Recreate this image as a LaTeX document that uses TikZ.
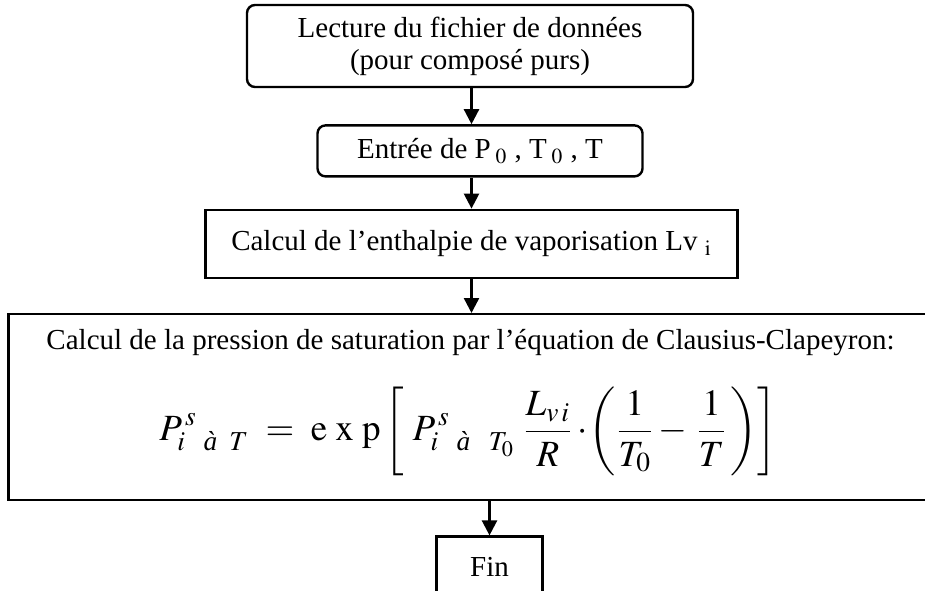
\documentclass[tikz,border=0pt]{standalone}
\usepackage{amsmath}
\usepackage{mathptmx}
\usepackage{fontspec}
\setmainfont{Liberation Serif}
\usetikzlibrary{positioning,arrows.meta}
\tikzset{
  box/.style={draw=black,line width=1.2pt,fill=white,align=center,inner sep=0pt,font=\fontsize{14.5}{16}\selectfont},
  roundbox/.style={box,rounded corners=4pt},
  arrow/.style={-{Triangle[length=7.5pt,width=7.5pt]},line width=1.2pt}
}
\newcommand\formsize{\fontsize{18.5}{22}\selectfont}

\begin{document}
\begin{tikzpicture}[x=0.5pt,y=-0.5pt]
  \useasboundingbox (0,0) rectangle (925,590);
  \node[roundbox,minimum width=223pt,minimum height=41pt] (lecture) at (470,46) {Lecture du fichier de données\\(pour composé purs)};
  \node[roundbox,below=18pt of lecture,xshift=5pt,minimum width=162.5pt,minimum height=25.5pt] (entree) {Entrée de P\,$_{0}$ , T\,$_{0}$ , T};
  \node[box,below=15.5pt of entree,xshift=-4.25pt,minimum width=266pt,minimum height=34pt] (enthalpie) {Calcul de l’enthalpie de vaporisation Lv\,$_{\,\mathrm{i}}$};
  \node[box,below=17pt of enthalpie,xshift=-0.5pt,minimum width=462pt,minimum height=93pt] (clausius) {Calcul de la pression de saturation par l’équation de Clausius-Clapeyron:\\[13.5pt]
    {\formsize$\displaystyle P^{\,s}_{i\ \ \textit{à}\ \,T}\;=\;\mathrm{e\,\,x\,\,p}\left[\rule[-20pt]{0pt}{48pt}\;P^{\,s}_{i\ \ \textit{à}\ \ T_0}\;\frac{L_{v\,i}}{R}\cdot\!\left(\rule[-16pt]{0pt}{40pt}\frac{1}{T_0}-\,\frac{1}{T}\,\right)\right]\rule[-22pt]{0pt}{22pt}$}};
  \node[box,below=17pt of clausius,xshift=9.5pt,minimum width=53pt,minimum height=30.5pt] (fin) {Fin};
  \draw[arrow] (lecture.south -| enthalpie) -- (entree.north -| enthalpie);
  \draw[arrow] (entree.south -| enthalpie) -- (enthalpie);
  \draw[arrow] (enthalpie) -- (clausius.north -| enthalpie);
  \draw[arrow] (clausius.south -| fin) -- (fin);
\end{tikzpicture}
\end{document}
